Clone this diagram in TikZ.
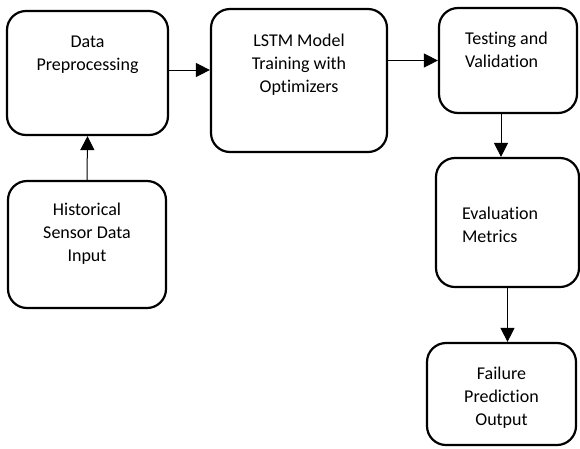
\documentclass[tikz,border=0pt]{standalone}
\usepackage{fontspec}
\setmainfont{Carlito}[Ligatures=NoCommon]
\usetikzlibrary{arrows.meta}
\usetikzlibrary{positioning}

\tikzset{
  stage/.style={draw, line width=2.2pt, rounded corners=19pt, inner sep=0pt},
  lbl/.style={font=\fontsize{18}{23}\selectfont, align=center, inner sep=0pt},
  flow/.style={-{Triangle[length=14pt,width=14pt]}, line width=1pt},
}

\begin{document}
\begin{tikzpicture}[x=1pt, y=-1pt]
  \useasboundingbox (0, 0) rectangle (580, 448);

  % boxes
  \node [stage, minimum width=161, minimum height=124] (prep) at (87.5, 73) {};
  \node [stage, minimum width=176, minimum height=143] (lstm) at (299, 80.5) {};
  \node [stage, minimum width=138, minimum height=105] (test) at (508, 60.5) {};
  \node [stage, minimum width=158, minimum height=127] (hist) at (87, 244.5) {};
  \node [stage, minimum width=143, minimum height=129] (eval) at (507.5, 222.5) {};
  \node [stage, minimum width=149, minimum height=102] (fail) at (501.5, 394) {};

  % box labels
  \node [lbl] (prepTxt) at ([yshift=18.5pt]prep) {Data\\Preprocessing};
  \node [lbl] (lstmTxt) at ([yshift=16pt]lstm) {LSTM Model\\Training with\\Optimizers};
  \node [lbl, anchor=west, align=left] (testTxt) at ([xshift=27pt, yshift=11pt]test.west) {Testing and\\Validation};
  \node [lbl] (histTxt) at ([yshift=11pt]hist) {Historical\\Sensor Data\\Input};
  \node [lbl, anchor=west, align=left] (evalTxt) at ([xshift=27pt, yshift=-2.5pt]eval.west) {Evaluation\\Metrics};
  \node [lbl] (failTxt) at ([yshift=-3.5pt]fail) {Failure\\Prediction\\Output};

  % arrows
  \draw [flow] (hist.north) -- (prep.south);
  \draw [flow] ([yshift=3pt]prep.east) -- ([yshift=3pt]prep.east -| lstm.west);
  \draw [flow] (lstm.east |- test.west) -- (test.west);
  \draw [flow] ([xshift=-7pt]test.south) -- ([xshift=-7pt]test.south |- eval.north);
  \draw [flow] (eval.south) -- (eval.south |- fail.north);
\end{tikzpicture}
\end{document}
